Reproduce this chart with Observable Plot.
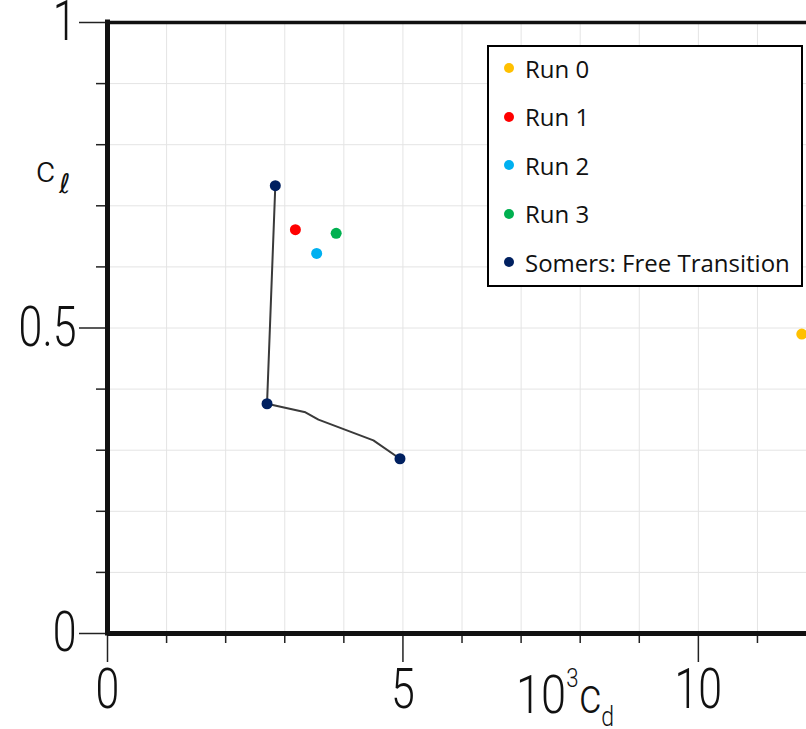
<!DOCTYPE html>
<html>
<head>
<meta charset="utf-8">
<script src="https://cdn.jsdelivr.net/npm/d3@7"></script>
<script src="https://cdn.jsdelivr.net/npm/@observablehq/plot@0.6"></script>
<style>
  html, body { margin: 0; padding: 0; background: #fff; overflow: hidden; }
  #wrap { position: relative; width: 806px; height: 729px; overflow: hidden; }
  #legend { position: absolute; left: 487px; top: 45px; width: 312px; height: 238px;
            border: 2px solid #000; background: #fff; box-sizing: content-box;
            font-family: 'Open Sans', 'Noto Sans', sans-serif; font-size: 24px; color: #111; }
  .item { position: absolute; left: 0; height: 30px; display: flex; align-items: center; white-space: nowrap; }
  .sw { display: inline-block; width: 10px; height: 10px; border-radius: 50%; margin-left: 15px; margin-right: 11px; }
</style>
</head>
<body>
<div id="wrap"></div>
<script>
// ---- data ----
const runNames = ["Run 0", "Run 1", "Run 2", "Run 3"];
const runCd = [11.75, 3.18, 3.54, 3.87];        // 10^3 c_d
const runCl = [0.490, 0.661, 0.622, 0.655];     // c_l
const somersName = "Somers: Free Transition";
const somersCd = [2.84, 2.70, 4.95];
const somersCl = [0.733, 0.376, 0.286];
const somersLineCd = [2.84, 2.70, 3.35, 3.57, 4.50, 4.95];
const somersLineCl = [0.733, 0.376, 0.362, 0.350, 0.316, 0.286];
const seriesNames = [...runNames, somersName];
const seriesColors = ["#FFC000", "#FF0000", "#00B0F0", "#00B050", "#002060"];
const xMajorTicks = [0, 5, 10];
const xMinorTicks = [1, 2, 3, 4, 6, 7, 8, 9, 11];
const yMajorTicks = [0, 0.5, 1];
const yMinorTicks = [0.1, 0.2, 0.3, 0.4, 0.6, 0.7, 0.8, 0.9];
const xGridTicks = [1, 2, 3, 4, 5, 6, 7, 8, 9, 10, 11];
const yGridTicks = [0.1, 0.2, 0.3, 0.4, 0.5, 0.6, 0.7, 0.8, 0.9];

const points = [
  ...runNames.map((s, i) => ({series: s, cd: runCd[i], cl: runCl[i]})),
  ...somersCd.map((v, i) => ({series: somersName, cd: v, cl: somersCl[i]}))
];
const somersLine = somersLineCd.map((v, i) => ({cd: v, cl: somersLineCl[i]}));

const axisFont = "Roboto, 'Liberation Sans', sans-serif";

const plot = Plot.plot({
  width: 806,
  height: 729,
  marginTop: 22,
  marginBottom: 96,
  marginLeft: 107,
  marginRight: 0,
  x: {domain: [0, 11.83]},
  y: {domain: [0, 1]},
  color: {domain: seriesNames, range: seriesColors},
  style: {fontFamily: axisFont, fontSize: "55px", fontWeight: 300, color: "#111", background: "#fff", overflow: "visible"},
  marks: [
    Plot.gridX(xGridTicks, {stroke: "#e4e4e4", strokeOpacity: 1, strokeWidth: 1}),
    Plot.gridY(yGridTicks, {stroke: "#e4e4e4", strokeOpacity: 1, strokeWidth: 1}),
    Plot.line(somersLine, {x: "cd", y: "cl", stroke: "#3a3a3a", strokeWidth: 2}),
    Plot.dot(points, {x: "cd", y: "cl", fill: "series", r: 5.5}),
    Plot.axisX(xMinorTicks, {tickSize: 10, tickFormat: () => "", strokeWidth: 1.5, stroke: "#222", label: null}),
    Plot.axisX(xMajorTicks, {tickSize: 29, tickPadding: 6, strokeWidth: 1.5, stroke: "#222", label: null, tickFormat: d => String(d)}),
    Plot.axisY(yMinorTicks, {tickSize: 11, tickFormat: () => "", strokeWidth: 1.5, stroke: "#222", label: null}),
    Plot.axisY(yMajorTicks, {tickSize: 28, tickPadding: 3, strokeWidth: 1.5, stroke: "#222", label: null, tickFormat: d => String(d)}),
    Plot.ruleX([0], {stroke: "#111", strokeWidth: 5, strokeLinecap: "square"}),
    Plot.ruleY([0], {stroke: "#111", strokeWidth: 5}),
    Plot.ruleY([1], {stroke: "#111", strokeWidth: 3.5})
  ]
});

// axis titles with super/subscripts
const svg = d3.select(plot);
const xt = svg.append("text").attr("class", "title").attr("x", 516).attr("y", 713)
  .attr("text-anchor", "start").attr("fill", "#111").style("font-family", axisFont).style("font-weight", 300);
xt.append("tspan").attr("font-size", 53).text("10");
xt.append("tspan").attr("font-size", 26).attr("dy", -26).text("3");
xt.append("tspan").attr("font-size", 50).attr("dy", 26).attr("dx", 1).text("c");
xt.append("tspan").attr("font-size", 27).attr("dy", 13).text("d");

const yt = svg.append("text").attr("x", 36).attr("y", 182).attr("text-anchor", "start")
  .attr("fill", "#111").style("font-family", axisFont).style("font-weight", 300);
yt.append("tspan").attr("font-size", 37).text("c");
yt.append("tspan").attr("font-size", 27).attr("dy", 11).attr("dx", 4)
  .style("font-family", "'DejaVu Sans', sans-serif").style("font-weight", 400).text("ℓ");

const wrap = document.getElementById("wrap");
wrap.appendChild(plot);

// narrow the tick labels and x title to match the condensed reference typeface
function squeeze(sel, k) {
  sel.each(function() {
    if (!this.textContent) return;
    const L = this.getComputedTextLength();
    if (L > 0) { this.setAttribute("textLength", (L * k).toFixed(1)); this.setAttribute("lengthAdjust", "spacingAndGlyphs"); }
  });
}
squeeze(svg.selectAll('g[aria-label="x-axis tick label"] text, g[aria-label="y-axis tick label"] text'), 0.78);
squeeze(svg.selectAll("text.title"), 0.86);

// legend inside the plot area
const color = plot.scale("color");
const legend = document.createElement("div");
legend.id = "legend";
seriesNames.forEach((name, i) => {
  const item = document.createElement("div");
  item.className = "item";
  item.style.top = (6 + i * 48.5) + "px";
  const sw = document.createElement("span");
  sw.className = "sw";
  sw.style.background = color.range[i];
  const lbl = document.createElement("span");
  lbl.textContent = name;
  item.appendChild(sw);
  item.appendChild(lbl);
  legend.appendChild(item);
});
wrap.appendChild(legend);
</script>
</body>
</html>
